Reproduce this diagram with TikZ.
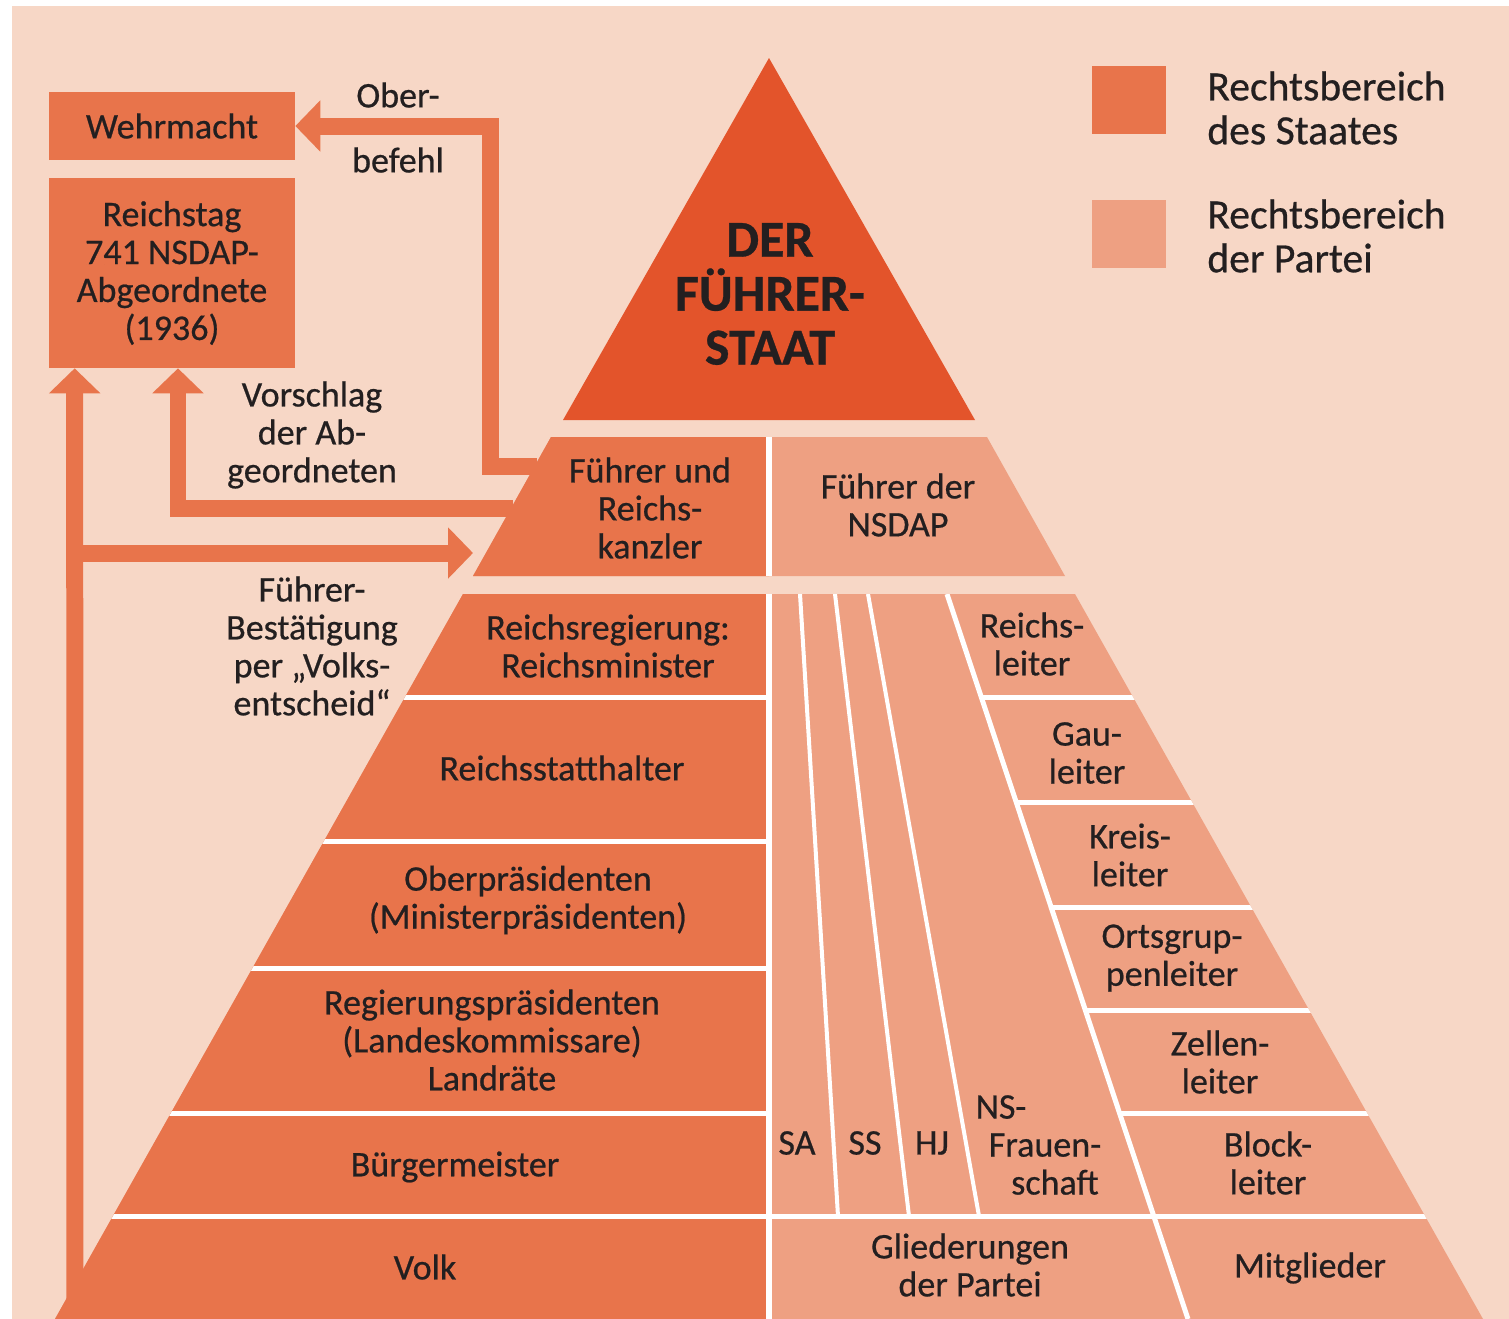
\documentclass[tikz,border=0pt]{standalone}
\usepackage{fontspec}
\setmainfont{Carlito}[FakeBold=0.6]
\usetikzlibrary{arrows.meta,calc}
\definecolor{bg}{HTML}{F7D7C6}
\definecolor{state}{HTML}{E8744B}
\definecolor{party}{HTML}{EEA082}
\definecolor{apex}{HTML}{E3542B}
\definecolor{ink}{HTML}{231F20}
\begin{document}
\begin{tikzpicture}[x=0.02cm, y=-0.02cm,
  lbl/.style={text=ink, align=center, inner sep=0pt, font=\fontsize{20.5}{21.6}\selectfont},
  box/.style={lbl, fill=state},
  bigarrow/.style={draw=state, line width=0.34cm, -{Triangle[length=0.5cm, width=1cm]}},
  sep/.style={white, line width=0.1cm}]
  \useasboundingbox (0,0) rectangle (1509,1319);
  \fill[white] (0,0) rectangle (1509,1319);
  \fill[bg] (12,6) rectangle (1509,1319);
  % top of the pyramid
  \fill[apex] (769,58) -- (975,420) -- (563,420) -- cycle;
  \node[lbl, font=\bfseries\fontsize{29.5}{30.7}\selectfont] (staat) at (770,294) {DER\\FÜHRER-\\STAAT};
  % leader band
  \fill[party] (551,437) -- (987,437) -- (1065,576) -- (473,576) -- cycle;
  \fill[state] (551,437) -- (769,437) -- (769,576) -- (473,576) -- cycle;
  \draw[white, line width=0.12cm] (769,437) -- (769,576);
  % lower part
  \fill[party] (463,594) -- (1075,594) -- (1483,1319) -- (55,1319) -- cycle;
  \fill[state] (463,594) -- (769,594) -- (769,1319) -- (55,1319) -- cycle;
  \begin{scope}
    \clip (463,594) -- (1075,594) -- (1483,1319) -- (55,1319) -- cycle;
    \draw[white, line width=0.12cm] (769,594) -- (769,1319);
    \foreach \y in {697,841,968,1113}
      \draw[sep] (0,\y) -- (769,\y);
    \draw[sep] (0,1216) -- (1509,1216);
    \foreach \y in {697,802,907,1010,1113}
      \draw[sep] ({947+0.332*(\y-594)},\y) -- (1509,\y);
    \draw[sep] (947,594) -- (1188,1319);
    \foreach \a/\b in {800/838,835/909,868/979}
      \draw[sep, line width=0.08cm] (\a,594) -- (\b,1216);
  \end{scope}
  % boxes on the left
  \node[box, minimum width=4.92cm, minimum height=1.36cm] (wehr) at (172,126) {Wehrmacht};
  \node[box, minimum width=4.92cm, minimum height=3.8cm] (rtag) at (172,273) {Reichstag\\741 NSDAP-\\Abgeordnete\\(1936)};
  % arrows
  \coordinate (obs) at (537,466);
  \coordinate (vss) at (513,508);
  \coordinate (vb) at (75,1330);
  \coordinate (bst) at (67,553);
  \coordinate (fts) at (473,553);
  \draw[bigarrow] (obs) -- (490,466) |- (wehr.east);
  \draw[bigarrow] (vss) -| ($(rtag.south)+(6,0)$);
  \draw[bigarrow] (vb) -- ($(rtag.south west)+(26,0)$);
  \draw[bigarrow] (bst) -- (fts);
  \node[lbl] (ober) at (398,95) {Ober-};
  \node[lbl] (befehl) at (398,160) {befehl};
  \node[lbl] (vorschlag) at (312,435) {Vorschlag\\der Ab-\\geordneten};
  \node[lbl] (bestaet) at (312,646) {Führer-\\Bestätigung\\per „Volks-\\entscheid“};
  % state side
  \node[lbl] (fk) at (650,508) {Führer und\\Reichs-\\kanzler};
  \node[lbl] (rreg) at (608,646) {Reichsregierung:\\Reichsminister};
  \node[lbl] (rst) at (562,768) {Reichsstatthalter};
  \node[lbl] (opr) at (528,900) {Oberpräsidenten\\(Ministerpräsidenten)};
  \node[lbl] (rpr) at (492,1040) {Regierungspräsidenten\\(Landeskommissare)\\Landräte};
  \node[lbl] (bgm) at (455,1167) {Bürgermeister};
  \node[lbl] (volk) at (425,1267) {Volk};
  % party side
  \node[lbl] (fn) at (898,505) {Führer der\\NSDAP};
  \node[lbl] (rl) at (1032,644) {Reichs-\\leiter};
  \node[lbl] (gl) at (1087,753) {Gau-\\leiter};
  \node[lbl] (kl) at (1130,855) {Kreis-\\leiter};
  \node[lbl] (ol) at (1172,958) {Ortsgrup-\\penleiter};
  \node[lbl] (zl) at (1220,1062) {Zellen-\\leiter};
  \node[lbl] (bl) at (1268,1163) {Block-\\leiter};
  \node[lbl] (mitgl) at (1310,1268) {Mitglieder};
  \node[lbl] (sa) at (797,1143) {SA};
  \node[lbl] (ss) at (865,1143) {SS};
  \node[lbl] (hj) at (932,1143) {HJ};
  \node[lbl] (nsf) at (1045,1145) {NS-\hspace*{1.76cm}\\Frauen-\\\hspace*{0.4cm}schaft};
  \node[lbl] (glied) at (970,1265) {Gliederungen\\der Partei};
  % legend
  \node[fill=state, minimum width=1.48cm, minimum height=1.38cm] (legs) at (1129,100) {};
  \node[fill=party, minimum width=1.48cm, minimum height=1.38cm] (legp) at (1129,234) {};
  \node[lbl, align=left, anchor=west, font=\fontsize{23.7}{25}\selectfont] (legst) at (1207,108) {Rechtsbereich\\des Staates};
  \node[lbl, align=left, anchor=west, font=\fontsize{23.7}{25}\selectfont] (legpt) at (1207,236) {Rechtsbereich\\der Partei};
\end{tikzpicture}
\end{document}
